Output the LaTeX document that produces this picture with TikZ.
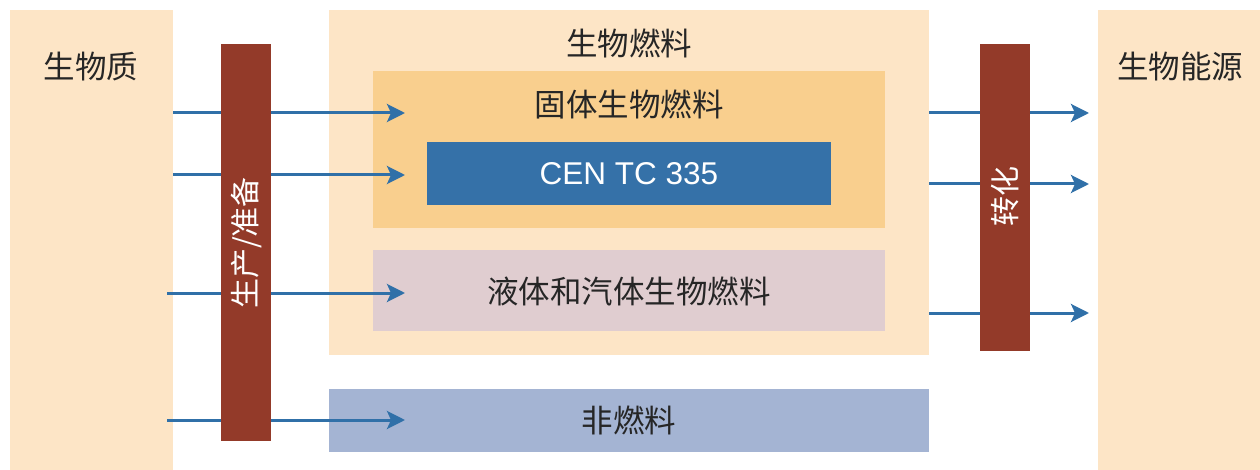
\documentclass[tikz,border=0pt]{standalone}
\usepackage{fontspec}
\setmainfont{Liberation Sans}
\newfontfamily\cjk{Noto Sans CJK SC}
\usetikzlibrary{arrows.meta}
\definecolor{peach}{HTML}{FDE5C6}
\definecolor{orangebox}{HTML}{F9CF8E}
\definecolor{cenblue}{HTML}{3571A8}
\definecolor{pinkbox}{HTML}{E0CDD0}
\definecolor{grayblue}{HTML}{A4B4D3}
\definecolor{brick}{HTML}{933A29}
\definecolor{arrowblue}{HTML}{3070A8}
\definecolor{txt}{HTML}{262626}
\begin{document}
\begin{tikzpicture}[x=1pt,y=-1pt,
  box/.style={draw=none, inner sep=0pt, outer sep=0pt, rectangle},
  lbl/.style={inner sep=0pt, text=txt, font=\cjk\fontsize{31.5}{34}\selectfont},
  vlbl/.style={inner sep=0pt, text=white, rotate=90, font=\cjk\fontsize{30}{34}\selectfont},
  arr/.style={draw=arrowblue, line width=3pt, -{Stealth[length=18pt,width=18pt,inset=4pt]}}]
\useasboundingbox (0,0) rectangle (1260,470);
% boxes
\node[box, fill=peach, minimum width=163pt, minimum height=460pt] (bio) at (91.5,240) {};
\node[box, fill=peach, minimum width=162pt, minimum height=460pt] (energy) at (1179,240) {};
\node[box, fill=peach, minimum width=600pt, minimum height=345pt] (fuel) at (629,182.5) {};
\node[box, fill=orangebox, minimum width=512pt, minimum height=157pt] (solid) at (629,149.5) {};
\node[box, fill=cenblue, minimum width=404pt, minimum height=63pt, text=white, font=\fontsize{31.5}{34}\selectfont] (cen) at (629,173.5) {CEN TC 335};
\node[box, fill=pinkbox, minimum width=512pt, minimum height=81pt] (liquid) at (629,290.5) {};
\node[box, fill=grayblue, minimum width=600pt, minimum height=63pt] (nonfuel) at (629,420.5) {};
% labels
\node[lbl] (tbio) at (91,67) {生物质};
\node[lbl] (tenergy) at (1180,67) {生物能源};
\node[lbl] (tfuel) at (629,43) {生物燃料};
\node[lbl] (tsolid) at (629,104) {固体生物燃料};
\node[lbl] (tliquid) at (629,291) {液体和汽体生物燃料};
\node[lbl] (tnon) at (629,420) {非燃料};
% arrow end points
\coordinate (a1) at (405,113);
\coordinate (a2) at (405,175);
\coordinate (a3) at (405,293);
\coordinate (a4) at (405,420);
\coordinate (s3) at (167,293);
\coordinate (s4) at (167,420);
\coordinate (b1) at (1089,113);
\coordinate (b2) at (1089,184);
\coordinate (b3) at (1089,313);
% arrows (drawn under the bars)
\draw[arr] (bio.east |- a1) -- (a1);
\draw[arr] (bio.east |- a2) -- (a2);
\draw[arr] (s3) -- (a3);
\draw[arr] (s4) -- (a4);
\draw[arr] (fuel.east |- b1) -- (b1);
\draw[arr] (fuel.east |- b2) -- (b2);
\draw[arr] (fuel.east |- b3) -- (b3);
% bars on top
\node[box, fill=brick, minimum width=50pt, minimum height=397pt] (prod) at (246,242.5) {};
\node[box, fill=brick, minimum width=50pt, minimum height=307pt] (conv) at (1005,197.5) {};
\node[vlbl] (tprod) at (247,243) {生产/准备};
\node[vlbl] (tconv) at (1005,197) {转化};
\end{tikzpicture}
\end{document}
